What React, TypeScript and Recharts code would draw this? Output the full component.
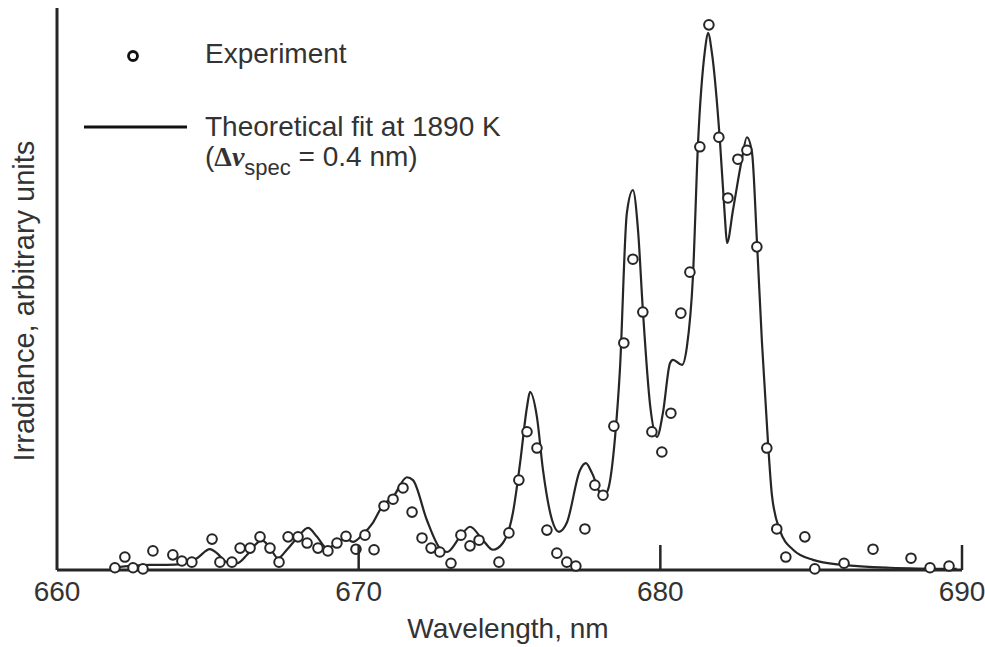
import { ComposedChart, Line, Scatter, XAxis, YAxis } from "recharts";

// Experiment: wavelength (nm) and irradiance (arbitrary units, 0-100)
const expWavelength = [
  661.92, 662.25, 662.52, 662.85, 663.18, 663.84, 664.14, 664.47, 665.14, 665.4,
  665.8, 666.07, 666.4, 666.73, 667.06, 667.36, 667.66, 667.99, 668.29, 668.65,
  668.98, 669.28, 669.58, 669.91, 670.21, 670.51, 670.84, 671.14, 671.47, 671.77,
  672.1, 672.4, 672.69, 673.06, 673.39, 673.69, 673.99, 674.65, 674.98, 675.31,
  675.58, 675.91, 676.24, 676.57, 676.9, 677.2, 677.5, 677.83, 678.1, 678.46,
  678.79, 679.09, 679.42, 679.72, 680.05, 680.35, 680.68, 680.98, 681.31, 681.61,
  681.94, 682.24, 682.57, 682.87, 683.2, 683.53, 683.86, 684.16, 684.79, 685.12,
  686.09, 687.05, 688.31, 688.94, 689.57,
];
const expIrradiance = [
  0.4, 2.3, 0.4, 0.2, 3.4, 2.7, 1.6, 1.4, 5.5, 1.4,
  1.4, 3.9, 3.9, 5.9, 3.9, 1.4, 5.9, 5.9, 4.8, 3.9,
  3.4, 4.8, 6.0, 3.7, 6.2, 3.6, 11.4, 12.6, 14.6, 10.3,
  5.7, 3.9, 3.2, 1.2, 6.2, 4.3, 5.3, 1.4, 6.6, 16.0,
  24.6, 21.7, 7.1, 3.0, 1.4, 0.7, 7.3, 15.1, 13.3, 25.6,
  40.4, 55.3, 45.9, 24.6, 21.0, 27.9, 45.7, 53.0, 75.3, 97.0,
  77.0, 66.2, 73.1, 74.7, 57.5, 21.7, 7.3, 2.3, 5.9, 0.2,
  1.2, 3.7, 2.1, 0.4, 0.7,
];

// Theoretical fit at 1890 K
const fitWavelength = [
  661.86, 663.08, 663.65, 664.18, 664.64, 665.07, 665.3, 665.63, 665.97, 666.3,
  666.63, 666.79, 667.06, 667.33, 667.62, 667.99, 668.32, 668.62, 668.95, 669.28,
  669.55, 669.81, 670.11, 670.47, 670.81, 671.14, 671.6, 671.8, 672.26, 672.69,
  672.93, 673.36, 673.69, 674.12, 674.45, 674.78, 675.11, 675.35, 675.58, 675.68,
  675.91, 676.11, 676.41, 676.64, 676.9, 677.34, 677.53, 677.73, 678.1, 678.26,
  678.5, 678.66, 678.89, 679.09, 679.26, 679.42, 679.66, 679.89, 680.09, 680.32,
  680.42, 680.72, 680.88, 681.08, 681.25, 681.48, 681.58, 681.71, 681.98, 682.14,
  682.21, 682.41, 682.7, 682.87, 683.04, 683.2, 683.37, 683.57, 683.7, 683.96,
  684.4, 685.06, 686.05, 687.61, 689.83,
];
const fitIrradiance = [
  0.4, 0.9, 0.9, 1.1, 2.1, 3.7, 3.0, 1.4, 1.2, 2.7,
  4.8, 5.3, 3.9, 2.1, 3.6, 5.9, 7.5, 5.9, 3.9, 4.8,
  5.7, 5.0, 6.2, 8.4, 11.6, 13.0, 16.5, 16.0, 8.9, 3.9,
  3.2, 5.9, 7.7, 5.3, 3.6, 4.8, 10.1, 19.0, 29.0, 31.7,
  27.2, 17.8, 8.9, 6.8, 8.4, 17.8, 19.0, 17.3, 13.0, 14.2,
  23.7, 35.6, 63.5, 67.6, 60.5, 46.3, 29.4, 23.7, 28.1, 36.8,
  37.4, 36.5, 39.7, 52.1, 76.0, 92.5, 95.6, 92.0, 76.0, 62.8,
  58.2, 64.1, 73.0, 77.0, 74.2, 58.7, 40.4, 22.6, 13.3, 7.1,
  3.6, 1.8, 0.9, 0.4, 0.2,
];

const xTicks = [660, 670, 680, 690];

const expData = expWavelength.map((x, i) => ({ x, y: expIrradiance[i] }));
const fitData = fitWavelength.map((x, i) => ({ x, y: fitIrradiance[i] }));

const INK = "#262626";
const TEXT = "#333";
const FONT = "'Liberation Sans', Arial, sans-serif";
const FS = 28;

const XTick = (props: any) => {
  const { x, y, payload } = props;
  return (
    <g>
      {payload.value !== 660 && (
        <line x1={x} x2={x} y1={y} y2={y - 25} stroke={INK} strokeWidth={2.5} />
      )}
      <text x={x} y={y + 31} textAnchor="middle" fontSize={FS} fontFamily={FONT} fill={TEXT}>
        {payload.value}
      </text>
    </g>
  );
};

const Ring = (props: any) => (
  <circle cx={props.cx} cy={props.cy} r={4.8} fill="#fff" stroke={INK} strokeWidth={2} />
);

export default function App() {
  return (
    <div style={{ position: "absolute", left: 0, top: 0, width: 985, height: 647, background: "#fff" }}>
      <ComposedChart width={985} height={647} margin={{ top: 8, right: 23, left: 0, bottom: 0 }}>
        <XAxis
          type="number"
          dataKey="x"
          domain={[660, 690]}
          ticks={xTicks}
          interval={0}
          allowDataOverflow
          height={77}
          axisLine={{ stroke: INK, strokeWidth: 3 }}
          tickLine={false}
          tickSize={0}
          tickMargin={0}
          tick={(p: any) => <XTick {...p} />}
          label={{
            position: "insideBottom",
            content: () => (
              <text x={508} y={638} textAnchor="middle" fontSize={FS} fontFamily={FONT} fill={TEXT}>
                Wavelength, nm
              </text>
            ),
          }}
        />
        <YAxis
          type="number"
          domain={[0, 100]}
          width={57}
          axisLine={{ stroke: INK, strokeWidth: 3 }}
          tick={false}
          tickLine={false}
          label={{
            position: "insideLeft",
            content: () => (
              <text
                x={34}
                y={301}
                transform="rotate(-90 34 301)"
                textAnchor="middle"
                fontSize={29}
                fontFamily={FONT}
                fill={TEXT}
              >
                Irradiance, arbitrary units
              </text>
            ),
          }}
        />
        <Line
          data={fitData}
          dataKey="y"
          type="monotone"
          stroke={INK}
          strokeWidth={2.2}
          dot={false}
          isAnimationActive={false}
        />
        <Scatter data={expData} dataKey="y" shape={Ring} isAnimationActive={false} />
      </ComposedChart>
      <svg
        width={985}
        height={647}
        style={{ position: "absolute", left: 0, top: 0, pointerEvents: "none" }}
      >
        <circle cx={133} cy={56} r={4.5} fill="#fff" stroke="#111" strokeWidth={2.8} />
        <text x={205} y={63} fontSize={FS} fontFamily={FONT} fill={TEXT}>
          Experiment
        </text>
        <line x1={84} x2={187} y1={127} y2={127} stroke="#111" strokeWidth={3} />
        <text x={205} y={136} fontSize={FS} fontFamily={FONT} fill={TEXT}>
          Theoretical fit at 1890 K
        </text>
        <text x={205} y={166} fontSize={FS} fontFamily={FONT} fill={TEXT}>
          (
          <tspan fontFamily="'Liberation Serif', serif" fontWeight="bold">
            Δ
          </tspan>
          <tspan fontFamily="'Liberation Serif', serif" fontWeight="bold" fontStyle="italic">
            ν
          </tspan>
          <tspan fontSize={22} dy={9}>
            spec
          </tspan>
          <tspan dy={-9}> = 0.4 nm)</tspan>
        </text>
      </svg>
    </div>
  );
}
